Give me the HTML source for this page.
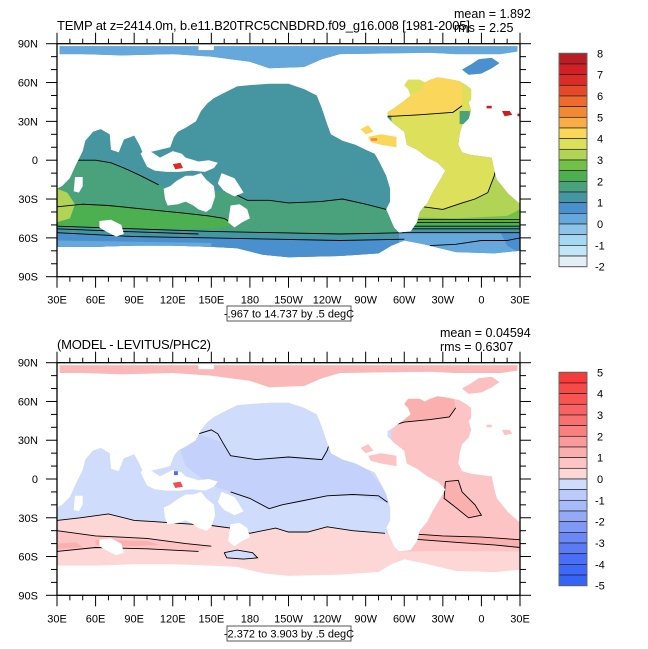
<!DOCTYPE html>
<html><head><meta charset="utf-8"><style>
html,body{margin:0;padding:0;background:#fff;}
svg{display:block;font-family:"Liberation Sans",Arial,sans-serif;}
</style></head><body>
<svg id="chart" width="648" height="649" viewBox="0 0 648 649" xmlns="http://www.w3.org/2000/svg"></svg>
<script>
// ---------- data ----------
const lonTicks=[30,60,90,120,150,180,210,240,270,300,330,360,390];
const lonLabels=['30E','60E','90E','120E','150E','180','150W','120W','90W','60W','30W','0','30E'];
const latTicks=[90,60,30,0,-30,-60,-90];
const latLabels=['90N','60N','30N','0','30S','60S','90S'];
const topLevels=[8,7,6,5,4,3,2,1,0,-1,-2];
const topColors=['#b81c24','#d11f26','#dc2a25','#e5492a','#ef6a2d','#f38a33','#f9ad4a','#fad75a','#dde05a','#b1d356','#74bf48','#4cb050','#4aa27c','#4596a0','#4a90cf','#66a8db','#8cc4ea','#a5d8f3','#c2e6f8','#e3eef5'];
const botLevels=[5,4,3,2,1,0,-1,-2,-3,-4,-5];
const botColors=['#f83a3a','#f94848','#f95454','#f96262','#fa7070','#fa8080','#fa9a9a','#fbaeae','#fcc4c4','#fdd6d6','#d0dcfb','#bccbfb','#a8bafa','#94aaf8','#8099f7','#6c88f6','#5a7af6','#4a6ef7','#3f68f8','#3464f8'];

const oceanWorld=[[30,-67],[30,-22],[34,-20],[40,-14],[45,-3],[50,7],[52,15],[58,22],[64,24],[71,20],[72,8],[78,6],[82,16],[90,19],[94,12],[97,5],[110,8],[118,10],[121,18],[124,22],[130,25],[138,30],[142,38],[147,44],[152,48],[160,52],[170,57],[180,58],[195,59],[210,59],[222,55],[232,50],[236,40],[240,28],[243,20],[252,15],[262,12],[270,8],[277,5],[281,-2],[286,-12],[289,-22],[289,-32],[286,-38],[289,-45],[292,-52],[296,-56],[305,-55],[310,-48],[312,-40],[318,-33],[322,-25],[328,-15],[332,-8],[326,-2],[318,2],[310,8],[302,12],[300,22],[292,28],[287,33],[287,37],[292,40],[296,43],[300,46],[305,50],[303,55],[300,58],[303,62],[312,62],[316,60],[320,62],[326,64],[333,63],[338,62],[343,61],[348,58],[352,55],[352,47],[350,45],[352,38],[350,32],[345,27],[343,20],[342,12],[345,6],[352,4],[360,3],[368,2],[370,-8],[372,-15],[381,-26],[389,-33],[390,-33],[390,-70],[370,-72],[340,-71],[315,-65],[300,-62],[290,-66],[280,-72],[250,-74],[210,-75],[190,-73],[170,-68],[150,-67],[120,-66],[90,-66],[60,-67]];
const oceanArctic=[[32,88],[140,88],[140,85],[152,85],[152,88],[388,88],[388,84],[375,82],[340,82],[320,83],[250,82],[236,78],[222,72],[195,71],[180,76],[165,78],[150,80],[120,82],[80,81],[50,82],[32,82]];
const oceanGreenland=[[345,70],[352,74],[358,78],[368,79],[374,75],[368,71],[360,67],[350,66]];
const islands=[
 [[113,-22],[114,-30],[116,-35],[124,-34],[130,-32],[136,-35],[140,-38],[146,-40],[150,-37],[153,-28],[152,-20],[146,-15],[142,-10],[136,-12],[130,-12],[123,-16],[118,-20]],
 [[95,5],[100,-5],[106,-8],[115,-9],[125,-9],[135,-8],[145,-9],[152,-6],[155,-2],[148,0],[140,-1],[130,2],[127,5],[120,7],[116,5],[110,2],[104,6],[98,8]],
 [[158,-10],[168,-14],[172,-20],[175,-25],[168,-28],[160,-24],[155,-18]],
 [[165,-35],[172,-34],[178,-38],[180,-45],[174,-48],[168,-52],[163,-48]],
 [[44,-13],[50,-13],[50,-20],[47,-25],[43,-24]],
 [[63,-47],[72,-46],[80,-50],[82,-57],[76,-59],[68,-55],[63,-52]]
];
const topZones=[
 ['#4596a0',[[30,90],[390,90],[390,-90],[30,-90]]],
 ['#4aa27c',[[30,5],[46,0],[60,0],[72,-2],[82,-6],[95,-12],[109,-19],[120,-25],[160,-24],[168,-26],[178,-31],[195,-31],[210,-33],[235,-32],[252,-30],[270,-34],[286,-38],[300,-38],[300,-90],[30,-90]]],
 ['#4cb050',[[30,-36],[50,-34],[70,-35],[100,-38],[130,-41],[148,-43],[160,-45],[168,-50],[150,-53],[90,-53],[30,-51]]],
 ['#b1d356',[[30,-22],[38,-25],[44,-34],[40,-45],[30,-48]]],
 ['#4596a0',[[30,-51],[90,-53],[150,-55],[200,-56],[250,-57],[300,-56],[300,-61],[250,-62],[200,-61],[150,-60],[90,-59],[30,-56]]],
 ['#4a90cf',[[30,-56],[90,-59],[150,-60],[200,-61],[250,-62],[300,-61],[300,-90],[30,-90]]],
 ['#66a8db',[[30,-62],[150,-64],[150,-90],[30,-90]]],
 ['#dde05a',[[290,90],[390,90],[390,-46],[300,-46],[296,-40],[292,-20],[290,0]]],
 ['#fad75a',[[286,65],[345,65],[345,42],[338,37],[325,36],[310,35],[292,34],[286,34]]],
 ['#dde05a',[[298,65],[318,65],[314,55],[305,50],[298,50]]],
 ['#4aa27c',[[343,38],[351,38],[351,28],[343,28]]],
 ['#b1d356',[[300,-33],[315,-36],[330,-38],[345,-33],[355,-30],[365,-25],[370,-12],[372,-2],[390,-2],[390,-46],[300,-46]]],
 ['#74bf48',[[300,-44],[340,-45],[380,-43],[390,-38],[390,-48],[300,-48]]],
 ['#4cb050',[[296,-48],[390,-48],[390,-51],[296,-51]]],
 ['#4aa27c',[[296,-51],[390,-51],[390,-53],[296,-53]]],
 ['#4596a0',[[296,-53],[390,-53],[390,-56],[296,-56]]],
 ['#66a8db',[[296,-56],[390,-56],[390,-90],[296,-90]]],
 ['#4a90cf',[[375,-56],[390,-56],[390,-72],[380,-66]]],
 ['#66a8db',[[30,90],[390,90],[390,66],[30,66]]],
 ['#4a90cf',oceanGreenland]
];
const topSpots=[
 ['#c8201e',[[364,42],[368,42],[368,40],[364,40]]],
 ['#c8201e',[[376,38],[382,38],[384,35],[378,34]]],
 ['#c8201e',[[388,36],[390,36],[390,34],[388,34]]],
 ['#fad75a',[[266,24],[272,27],[276,22],[270,20]]],
 ['#fad75a',[[272,18],[282,20],[294,18],[294,10],[282,12],[274,14]]],
 ['#f38a33',[[274,17],[279,17],[279,15],[274,15]]],
 ['#dc2a25',[[120,-3],[126,-2],[128,-6],[122,-7]]]
];
const topContours=[
 [[30,5],[46,0],[60,0],[72,-2],[82,-6],[95,-12],[109,-19]],
 [[160,-24],[168,-26],[178,-31],[195,-31],[210,-33],[235,-32],[252,-30],[270,-34],[286,-38]],
 [[30,-36],[50,-34],[70,-35],[100,-38],[130,-41],[148,-43],[160,-45],[168,-50]],
 [[30,-51],[90,-53],[150,-55],[200,-56],[250,-57],[300,-56]],
 [[30,-56],[90,-59],[150,-60],[200,-61],[250,-62],[300,-61]],
 [[30,-53],[80,-55],[140,-57]],
 [[286,34],[292,34],[310,35],[325,36],[338,37],[345,42]],
 [[300,-33],[315,-36],[330,-38],[345,-33],[355,-30],[365,-25],[370,-12],[372,-2]],
 [[300,-46],[390,-46]],[[296,-48],[390,-48]],[[296,-51],[390,-51]],[[296,-53],[390,-53]],[[296,-56],[390,-56]],
 [[320,-66],[340,-65],[360,-62],[380,-62],[390,-60]]
];
const botZones=[
 ['#fdd6d6',[[30,90],[390,90],[390,-90],[30,-90]]],
 ['#d0dcfb',[[30,66],[290,66],[290,-42],[285,-42],[260,-40],[240,-37],[225,-41],[210,-41],[200,-38],[180,-42],[165,-38],[150,-36],[120,-34],[105,-33],[90,-32],[70,-27],[48,-30],[30,-32]]],
 ['#c4d1fb',[[140,35],[159,28],[165,18],[185,15],[210,17],[236,15],[242,28],[250,30],[270,10],[290,-15],[287,-18],[260,-12],[240,-13],[220,-17],[205,-20],[195,-23],[180,-15],[165,-10],[150,-5],[130,10],[125,25]]],
 ['#fcc4c4',[[30,-40],[60,-44],[100,-46],[130,-50],[150,-52],[140,-56],[100,-54],[60,-53],[30,-56]]],
 ['#fbb0b0',[[60,-47],[100,-48],[110,-51],[90,-52],[60,-51]]],
 ['#fbb0b0',[[30,-50],[45,-49],[50,-53],[30,-54]]],
 ['#d0dcfb',[[160,-57],[170,-55],[182,-57],[186,-61],[175,-62],[162,-61]]],
 ['#fcc4c4',[[290,66],[390,66],[390,-90],[296,-90],[296,-56],[292,-45],[289,-32],[290,0]]],
 ['#fbb0b0',[[286,40],[300,44],[320,46],[335,48],[340,55],[338,66],[286,66]]],
 ['#fbb0b0',[[332,-2],[342,-1],[345,-10],[355,-20],[360,-28],[350,-30],[340,-22],[331,-15]]],
 ['#fbb0b0',[[300,-42],[330,-44],[360,-45],[390,-47],[390,-53],[370,-51],[340,-49],[300,-46]]],
 ['#fdd6d6',[[296,-56],[390,-56],[390,-90],[296,-90]]],
 ['#fbb8b8',[[30,90],[390,90],[390,66],[30,66]]],
 ['#fcc0c0',oceanGreenland]
];
const botSpots=[
 ['#fcc4c4',[[364,42],[368,42],[368,40],[364,40]]],
 ['#fcc4c4',[[376,38],[382,38],[384,35],[378,34]]],
 ['#fcc4c4',[[266,24],[272,27],[276,22],[270,20]]],
 ['#fcc4c4',[[272,18],[282,20],[294,18],[294,10],[282,12],[274,14]]],
 ['#f05050',[[120,-3],[126,-2],[128,-6],[122,-7]]],
 ['#4a6ef7',[[121,6],[124,6],[124,3],[121,3]]]
];
const botContours=[
 [[30,-32],[48,-30],[70,-27],[90,-32],[105,-33],[120,-34],[150,-36],[165,-38],[180,-42],[200,-38],[210,-41],[225,-41],[240,-37],[260,-40],[285,-42]],
 [[140,35],[150,38],[155,35],[159,28],[165,18],[185,15],[210,17],[236,15],[240,22],[242,28]],
 [[165,-10],[180,-15],[195,-23],[205,-20],[220,-17],[240,-13],[260,-12],[280,-13],[287,-18]],
 [[30,-40],[60,-44],[100,-46],[130,-50],[150,-52]],
 [[30,-56],[60,-53],[100,-54],[140,-56]],
 [[160,-57],[170,-55],[182,-57],[186,-61],[175,-62],[162,-61],[160,-57]],
 [[286,40],[300,44],[320,46],[335,48],[340,55]],
 [[332,-2],[342,-1],[345,-10],[355,-20],[360,-28],[350,-30],[340,-22],[331,-15],[332,-2]],
 [[300,-42],[330,-44],[360,-45],[390,-47]],
 [[300,-46],[340,-49],[370,-51],[390,-53]]
];

// ---------- drawing ----------
const NS='http://www.w3.org/2000/svg';
const svg=document.getElementById('chart');
const L=57,R=520;
function X(lon){return L+(lon-30)/360*(R-L);}
function Y(p,lat){return p.top+(90-lat)/180*(p.bot-p.top);}
function pts(p,a){return a.map(q=>X(q[0]).toFixed(1)+','+Y(p,q[1]).toFixed(1)).join(' ');}
function mk(tag,attrs,parent){const e=document.createElementNS(NS,tag);for(const k in attrs)e.setAttribute(k,attrs[k]);(parent||svg).appendChild(e);return e;}
function txt(s,x,y,size,anchor,parent){const t=mk('text',{x:x,y:y,'font-size':size,'text-anchor':anchor||'start',fill:'#000'},parent);t.textContent=s;return t;}

function panel(p){
  const g=mk('g',{});
  
  
  const cp=mk('clipPath',{id:p.id+'-clip'},g);
  [oceanWorld,oceanArctic,oceanGreenland].forEach(a=>mk('polygon',{points:pts(p,a)},cp));
  const map=mk('g',{'clip-path':'url(#'+p.id+'-clip)'},g);
  
  
  p.zones.forEach(z=>{const e=mk('polygon',{points:pts(p,z[1]),fill:z[0]},map);
    
    });
  p.contours.forEach(c=>{const e=mk('polyline',{points:pts(p,c),fill:'none',stroke:'#000','stroke-width':0.9},map);
    
    });
  islands.forEach(a=>{const e=mk('polygon',{points:pts(p,a),fill:'#fff'},g);
    
    });
  p.spots.forEach(z=>{const e=mk('polygon',{points:pts(p,z[1]),fill:z[0]},g);
    
    });
  // frame
  const fr=mk('rect',{x:L,y:p.top,width:R-L,height:p.bot-p.top,fill:'none',stroke:'#000','stroke-width':1.3},g);
  
  
  // lon ticks
  for(let lon=30;lon<=390;lon+=10){
    const major=lonTicks.includes(lon);const len=major?11:5;
    mk('line',{x1:X(lon),x2:X(lon),y1:p.top,y2:p.top-len,stroke:'#000','stroke-width':1},g);
    mk('line',{x1:X(lon),x2:X(lon),y1:p.bot,y2:p.bot+len,stroke:'#000','stroke-width':1},g);
  }
  for(let lat=-90;lat<=90;lat+=10){
    const major=latTicks.includes(lat);const len=major?11:6;
    mk('line',{x1:L,x2:L-len,y1:Y(p,lat),y2:Y(p,lat),stroke:'#000','stroke-width':1},g);
    mk('line',{x1:R,x2:R+len,y1:Y(p,lat),y2:Y(p,lat),stroke:'#000','stroke-width':1},g);
  }
  lonTicks.forEach((lon,i)=>{const t=txt(lonLabels[i],X(lon),p.bot+27,11,'middle',g);
    
    });
  latTicks.forEach((lat,i)=>{const t=txt(latLabels[i],38,Y(p,lat)+4,11,'end',g);
    
    });
  // titles
  const tt=txt(p.title,57,p.titleY,13,'start',g);
  if(p.titleLen)tt.setAttribute('textLength',p.titleLen);
  
  
  const m=txt(p.mean,p.statX,p.meanY,12.5,'start',g);
  
  
  const r=txt(p.rms,p.statX,p.rmsY,12.5,'start',g);
  
  
  // info box
  const bx=mk('rect',{x:227,y:p.boxY,width:124,height:15,fill:'#fff',stroke:'#555','stroke-width':1},g);
  
  
  const bt=txt(p.box,289,p.boxY+11.5,11,'middle',g);
  
  
  // colorbar
  const cb=mk('g',{},g);
  
  
  const n=p.colors.length,h=(p.cbBot-p.cbTop)/n;
  p.colors.forEach((c,i)=>{const e=mk('rect',{x:559,y:p.cbTop+i*h,width:28,height:h,fill:c,stroke:'#222','stroke-width':0.7},cb);
    
    });
  mk('rect',{x:559,y:p.cbTop,width:28,height:p.cbBot-p.cbTop,fill:'none',stroke:'#666','stroke-width':1},cb);
  p.levels.forEach((v,i)=>{const t=txt(String(v),v<0?595:597,p.cbTop+i*2*h+4,11,'start',cb);
    
    });
}

panel({id:'p1',name:'model-temperature-panel',top:43.7,bot:276.7,zones:topZones,contours:topContours,spots:topSpots,
  title:'TEMP at z=2414.0m, b.e11.B20TRC5CNBDRD.f09_g16.008 [1981-2005]',titleLen:413,titleY:30,
  mean:'mean = 1.892',rms:'rms = 2.25',statX:454,meanY:18,rmsY:32,
  box:'-.967 to 14.737 by .5 degC',boxY:306,colors:topColors,levels:topLevels,cbTop:53.3,cbBot:266.7});
panel({id:'p2',name:'difference-panel',top:362.7,bot:595.3,zones:botZones,contours:botContours,spots:botSpots,
  title:'(MODEL - LEVITUS/PHC2)',titleLen:154,titleY:349,
  mean:'mean = 0.04594',rms:'rms = 0.6307',statX:440,meanY:337,rmsY:351,
  box:'-2.372 to 3.903 by .5 degC',boxY:626,colors:botColors,levels:botLevels,cbTop:372.3,cbBot:585.7});
</script>
</body></html>
